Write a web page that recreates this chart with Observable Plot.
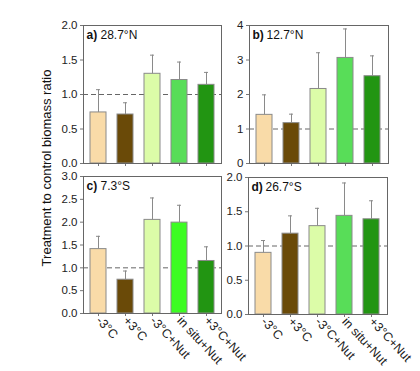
<!DOCTYPE html>
<html><head><meta charset="utf-8">
<script src="https://cdn.jsdelivr.net/npm/d3@7"></script>
<script src="https://cdn.jsdelivr.net/npm/@observablehq/plot@0.6"></script>
<style>
body{margin:0;background:#fff;font-family:"Liberation Sans",Arial,sans-serif;}
#wrap{position:relative;width:420px;height:371px;overflow:hidden;}
#wrap svg{position:absolute;}
#ylab{position:absolute;left:46px;top:168px;transform:translate(-50%,-50%) rotate(-90deg);white-space:nowrap;font-size:13px;color:#111;}
</style></head>
<body><div id="wrap"><div id="ylab">Treatment to control biomass ratio</div></div>
<script>
const categories = ["-3°C", "+3°C", "-3°C+Nut", "in situ+Nut", "+3°C+Nut"];
const colors = ["#f9dba8", "#6a4a08", "#dcfca8", "#58dd58", "#229512"];
const colorsC = ["#f9dba8", "#6a4a08", "#dcfca8", "#3cfc22", "#229512"];

const aMean = [0.74, 0.71, 1.30, 1.21, 1.14];
const aErr  = [0.33, 0.17, 0.27, 0.26, 0.18];
const bMean = [1.41, 1.17, 2.16, 3.06, 2.53];
const bErr  = [0.58, 0.26, 1.05, 0.84, 0.59];
const cMean = [1.41, 0.74, 2.05, 1.99, 1.15];
const cErr  = [0.28, 0.19, 0.48, 0.38, 0.31];
const dMean = [0.90, 1.18, 1.29, 1.44, 1.39];
const dErr  = [0.18, 0.26, 0.26, 0.48, 0.27];

const aTicks = [0, 0.5, 1.0, 1.5, 2.0];
const bTicks = [0, 1, 2, 3, 4];
const cTicks = [0, 0.5, 1.0, 1.5, 2.0, 2.5, 3.0];
const dTicks = [0, 0.5, 1.0, 1.5, 2.0];

const panels = [
  {tag:"a)", name:"28.7°N", mean:aMean, err:aErr, ticks:aTicks, fmt:".1f", cols:colors, box:[83,221,25,163], labels:false},
  {tag:"b)", name:"12.7°N", mean:bMean, err:bErr, ticks:bTicks, fmt:"d", cols:colors, box:[249,388,25,163], labels:false},
  {tag:"c)", name:"7.3°S", mean:cMean, err:cErr, ticks:cTicks, fmt:".1f", cols:colorsC, box:[83,221,176,313], labels:true},
  {tag:"d)", name:"26.7°S", mean:dMean, err:dErr, ticks:dTicks, fmt:".1f", cols:colors, box:[248,387,177,314], labels:true}
];

const wrap = document.getElementById("wrap");
for (const p of panels) {
  const [x0,x1,y0,y1] = p.box;
  const mL = 40, mT = 12, mR = 12, mB = p.labels ? 70 : 10;
  const data = categories.map((c,i) => ({cat:c, v:p.mean[i], top:p.mean[i]+p.err[i], col:p.cols[i]}));
  const ymax = p.ticks[p.ticks.length-1];
  const plot = Plot.plot({
    width: (x1-x0)+mL+mR,
    height: (y1-y0)+mT+mB,
    marginLeft: mL, marginRight: mR, marginTop: mT, marginBottom: mB,
    style: {background:"none", overflow:"visible", fontFamily:"'Liberation Sans', Arial, sans-serif", fontSize:"11px", color:"#222"},
    x: {type:"band", domain: categories, paddingInner:0.4, paddingOuter:0.2, label:null},
    y: {domain:[0, ymax], label:null},
    marks: [
      Plot.axisY({ticks:p.ticks, tickFormat: d3.format(p.fmt), tickSize:3, tickPadding:3, stroke:"#777", label:null, fontSize:11.5}),
      Plot.axisX({tickSize:3, tickRotate: p.labels ? 47 : 0, tickFormat: p.labels ? (d=>d) : (()=>""), stroke:"#777", tickPadding:2, label:null, fontSize:12.5}),
      Plot.ruleY([1], {stroke:"#666", strokeDasharray:"5,3", strokeWidth:1}),
      Plot.barY(data, {x:"cat", y:"v", fill:"col", stroke:"#8a8a8a", strokeWidth:1}),
      Plot.ruleX(data, {x:"cat", y1:"v", y2:"top", stroke:"#8a8a8a", strokeWidth:1}),
      Plot.tickY(data, {x:"cat", y:"top", stroke:"#8a8a8a", strokeWidth:1, insetLeft:6, insetRight:6}),
      Plot.frame({stroke:"#666", strokeWidth:1}),
      Plot.text([p.tag], {frameAnchor:"top-left", dx:3, dy:5, text:d=>d, fontWeight:"bold", fontSize:12, fill:"#111"}),
      Plot.text([p.name], {frameAnchor:"top-left", dx:17, dy:5, text:d=>d, fontSize:12, fill:"#111"})
    ]
  });
  plot.style.left = (x0 - mL) + "px";
  plot.style.top = (y0 - mT) + "px";
  wrap.appendChild(plot);
}
</script>
</body></html>
